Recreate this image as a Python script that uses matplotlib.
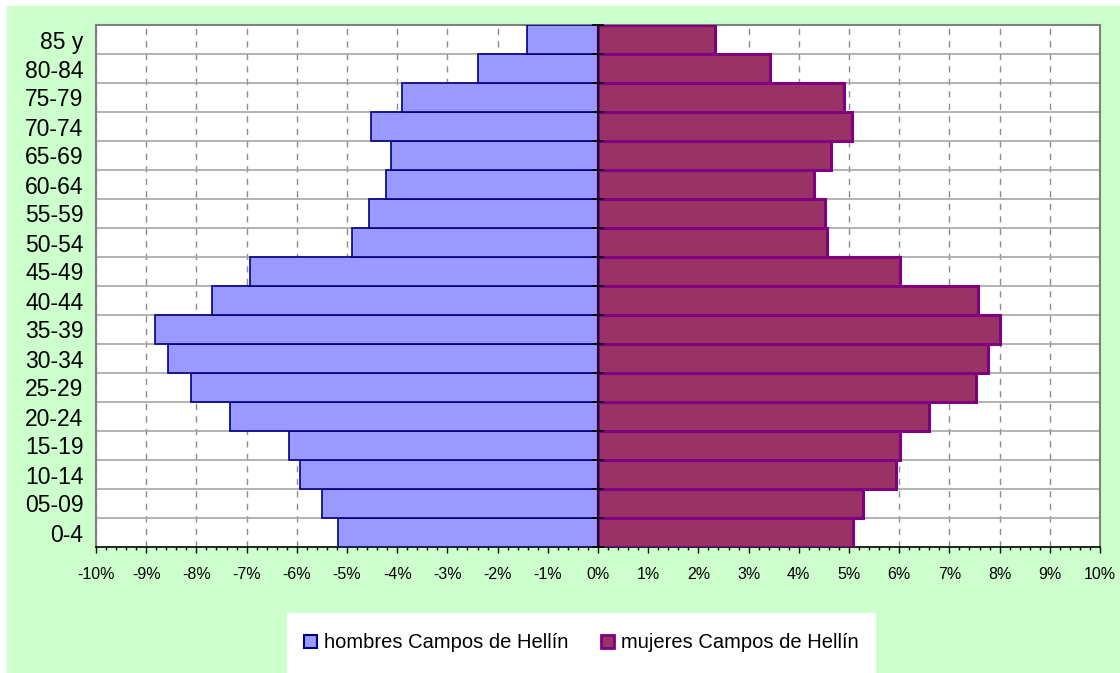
import matplotlib
matplotlib.use("Agg")
import matplotlib.pyplot as plt
from matplotlib.patches import Rectangle, Patch
from matplotlib.ticker import MultipleLocator, FuncFormatter
import numpy as np

plt.rcParams['font.family'] = ['Liberation Sans', 'DejaVu Sans']

categories = ["0-4", "05-09", "10-14", "15-19", "20-24", "25-29", "30-34", "35-39",
              "40-44", "45-49", "50-54", "55-59", "60-64", "65-69", "70-74", "75-79",
              "80-84", "85 y"]
hombres = [5.17, 5.49, 5.94, 6.16, 7.34, 8.11, 8.57, 8.83, 7.69, 6.94,
           4.91, 4.57, 4.23, 4.12, 4.53, 3.90, 2.40, 1.41]
mujeres = [5.07, 5.27, 5.94, 6.02, 6.60, 7.53, 7.77, 8.01, 7.57, 6.02,
           4.57, 4.53, 4.31, 4.65, 5.05, 4.91, 3.42, 2.33]
label_h = "hombres Campos de Hellín"
label_m = "mujeres Campos de Hellín"

W, H = 1120, 673
fig = plt.figure(figsize=(W / 100, H / 100), dpi=100, facecolor='white')

# green chart area
fig.patches.append(Rectangle((7 / W, 0), 1 - 7 / W, 1 - 6 / H, transform=fig.transFigure,
                             facecolor='#CCFFCC', edgecolor='none', zorder=-5))
# legend white box
fig.patches.append(Rectangle((287 / W, 0), (876 - 287) / W, (673 - 613) / H,
                             transform=fig.transFigure, facecolor='white',
                             edgecolor='none', zorder=-4))

left, right, top, bottom = 96, 1100, 25, 547
ax = fig.add_axes([left / W, 1 - bottom / H, (right - left) / W, (bottom - top) / H])
ax.set_facecolor('white')
ax.set_zorder(2)

y = np.arange(len(categories))
ax.barh(y, -np.array(hombres), height=1.0, color='#9999FF', edgecolor='#000080',
        linewidth=1.2, zorder=3)
ax.barh(y, mujeres, height=1.0, color='#993366', edgecolor='#800080',
        linewidth=2.2, zorder=3)

ax.set_xlim(-10, 10)
ax.set_ylim(-0.5, len(categories) - 0.5)

# horizontal category boundaries
for b in np.arange(len(categories) - 1) + 0.5:
    ax.axhline(b, color='#A6A6A6', linewidth=1.2, zorder=1)

# vertical dashed gridlines
ax.xaxis.set_major_locator(MultipleLocator(1))
ax.xaxis.set_minor_locator(MultipleLocator(0.2))
ax.grid(axis='x', which='major', color='#8C8C8C', linestyle=(0, (4.5, 4.5)),
        linewidth=1.0, zorder=1)
ax.set_axisbelow(True)

ax.xaxis.set_major_formatter(FuncFormatter(lambda v, p: f"{int(round(v))}%"))
ax.tick_params(axis='x', which='major', length=4.5, width=1, color='black',
               pad=10, labelsize=11.5)
ax.tick_params(axis='x', which='minor', length=2.3, width=1, color='black')

ax.set_yticks(y)
ax.set_yticklabels(categories)
ax.tick_params(axis='y', length=0, pad=9, labelsize=16.5)

for s in ['left', 'top', 'right']:
    ax.spines[s].set_color('#808080')
    ax.spines[s].set_linewidth(1.5)
ax.spines['bottom'].set_color('black')
ax.spines['bottom'].set_linewidth(1.2)

# value axis at zero with cross ticks
ax.axvline(0, color='#1a0033', linewidth=1.5, zorder=5)
bounds = np.arange(len(categories) + 1) - 0.5
ax.plot(np.zeros_like(bounds), bounds, linestyle='none', marker='_',
        markersize=9, markeredgewidth=1.2, color='black', zorder=6, clip_on=False)

handles = [Patch(facecolor='#9999FF', edgecolor='#000080', linewidth=1.5, label=label_h),
           Patch(facecolor='#993366', edgecolor='#800080', linewidth=2, label=label_m)]
leg = fig.legend(handles=handles, loc='center', ncol=2,
                 bbox_to_anchor=((287 + 876) / 2 / W, 1 - 643 / H),
                 frameon=False, fontsize=14.5, handlelength=0.65, handleheight=0.65,
                 handletextpad=0.35, columnspacing=1.6)
leg.set_zorder(5)

fig.savefig("out.png", dpi=100, facecolor='white')
